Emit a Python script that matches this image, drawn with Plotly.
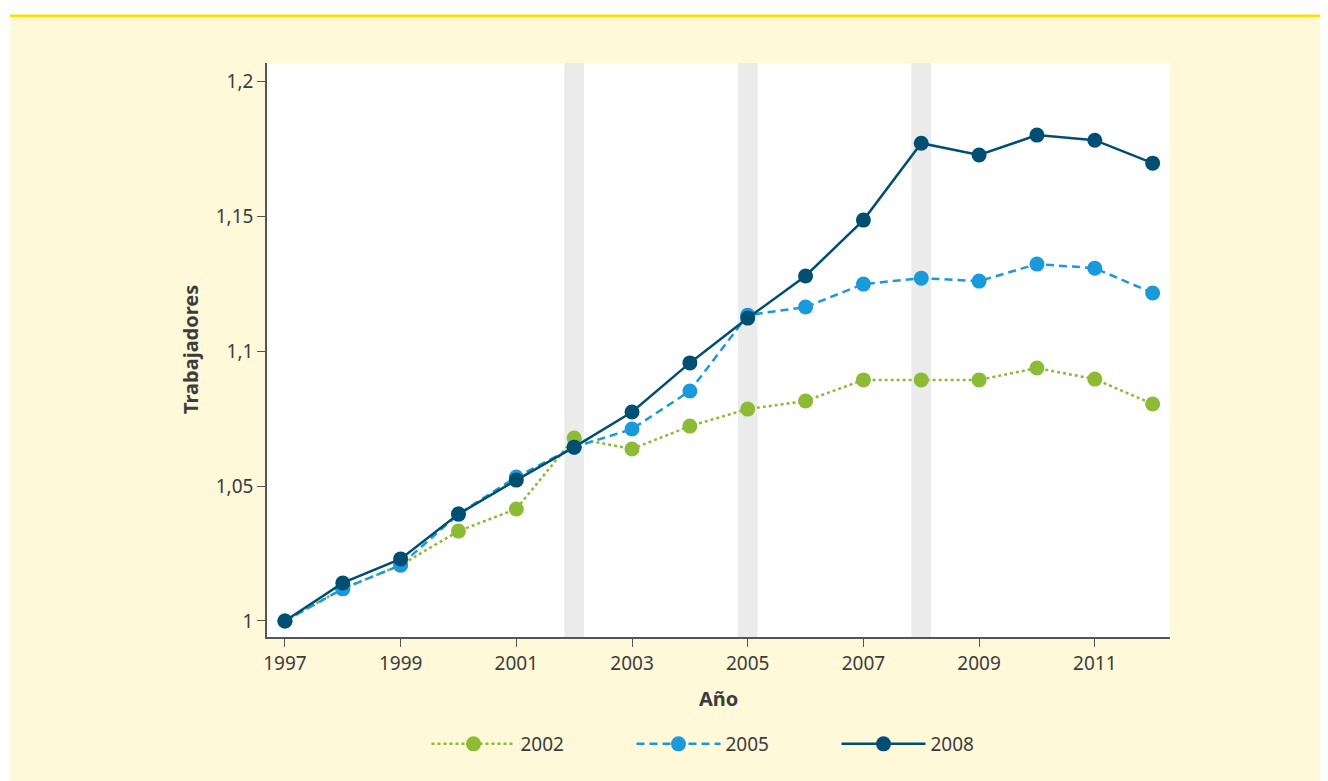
import plotly.graph_objects as go

years = list(range(1997, 2013))
s2002 = [1.0, 1.012, 1.0207, 1.0333, 1.0415, 1.0678, 1.0637, 1.0722, 1.0785, 1.0815, 1.0893, 1.0893, 1.0893, 1.0937, 1.0896, 1.0804]
s2005 = [1.0, 1.0119, 1.0207, 1.0396, 1.0533, 1.0644, 1.0711, 1.0852, 1.1133, 1.1163, 1.1248, 1.127, 1.1259, 1.1322, 1.1307, 1.1215]
s2008 = [1.0, 1.0141, 1.023, 1.0396, 1.0522, 1.0644, 1.0774, 1.0956, 1.1122, 1.1278, 1.1485, 1.177, 1.1726, 1.18, 1.1781, 1.1696]
band_years = [2002, 2005, 2008]
x_ticks = [1997, 1999, 2001, 2003, 2005, 2007, 2009, 2011]
y_ticks = [1.0, 1.05, 1.1, 1.15, 1.2]
y_ticktext = ["1", "1,05", "1,1", "1,15", "1,2"]

GREEN = "#8DBB35"
BLUE = "#1B9ADB"
DARK = "#004F73"
TXT = "#3C3C3C"
FONT = "Noto Sans"

fig = go.Figure()
fig.add_trace(go.Scatter(x=years, y=s2002, name="2002", mode="lines+markers",
                         line=dict(color=GREEN, width=2.5, dash="3px,3px"),
                         marker=dict(color=GREEN, size=15)))
fig.add_trace(go.Scatter(x=years, y=s2005, name="2005", mode="lines+markers",
                         line=dict(color=BLUE, width=2.5, dash="8px,5px"),
                         marker=dict(color=BLUE, size=15)))
fig.add_trace(go.Scatter(x=years, y=s2008, name="2008", mode="lines+markers",
                         line=dict(color=DARK, width=2.5),
                         marker=dict(color=DARK, size=15)))

shapes = []
for b in band_years:
    shapes.append(dict(type="rect", xref="x", yref="paper", x0=b - 0.17, x1=b + 0.17,
                       y0=0, y1=1, fillcolor="#EBEBEB", line=dict(width=0), layer="below"))

# page is offset by the 8px body margin; work in figure px
OFF = 8
W, H = 1328 - OFF, 781 - OFF
L, R, T, B = 267 - OFF, 1170 - OFF, 63 - OFF, 637 - OFF
def px(x):
    return (x - OFF - L) / (R - L)
def py(y):
    return (B - (y - OFF)) / (B - T)

# white top strip and left strip, yellow line (page coordinates)
shapes.append(dict(type="rect", xref="paper", yref="paper", x0=px(0), x1=px(1340), y0=py(15), y1=py(-5),
                   fillcolor="white", line=dict(width=0), layer="below"))
shapes.append(dict(type="rect", xref="paper", yref="paper", x0=px(-5), x1=px(10), y0=py(790), y1=py(-5),
                   fillcolor="white", line=dict(width=0), layer="below"))
shapes.append(dict(type="rect", xref="paper", yref="paper", x0=px(10), x1=px(1340), y0=py(17), y1=py(14.5),
                   fillcolor="#FFDD00", line=dict(width=0), layer="below"))

fig.update_layout(
    width=W, height=H,
    margin=dict(l=L, r=W - R, t=T, b=H - B, autoexpand=False),
    paper_bgcolor="#FFF8D9",
    plot_bgcolor="white",
    font=dict(family=FONT, size=19, color=TXT),
    shapes=shapes,
    showlegend=True,
    legend=dict(orientation="h", x=px(734), xanchor="center", y=py(744), yanchor="middle",
                bgcolor="rgba(0,0,0,0)", font=dict(size=19, color=TXT), itemwidth=84,
                tracegroupgap=0, entrywidth=106),
    annotations=[
        dict(text="<b>Año</b>", xref="paper", yref="paper", x=px(718), y=py(698),
             showarrow=False, font=dict(size=20, color=TXT), xanchor="center", yanchor="middle"),
        dict(text="<b>Trabajadores</b>", xref="paper", yref="paper", x=px(190), y=py(350),
             showarrow=False, font=dict(size=20, color=TXT), textangle=-90,
             xanchor="center", yanchor="middle"),
    ],
)
fig.update_xaxes(range=[1996.69, 2012.30], tickvals=x_ticks, ticks="outside", ticklen=8,
                 tickcolor="#555", showline=True, linecolor="#555", linewidth=1.5,
                 showgrid=False, zeroline=False, tickfont=dict(size=19, color=TXT))
fig.update_yaxes(range=[0.99407, 1.2067], tickvals=y_ticks, ticktext=y_ticktext, ticks="outside",
                 ticklen=8, tickcolor="#555", showline=True, linecolor="#555", linewidth=1.5,
                 showgrid=False, zeroline=False, tickfont=dict(size=19, color=TXT))

fig.write_html("out.html")
